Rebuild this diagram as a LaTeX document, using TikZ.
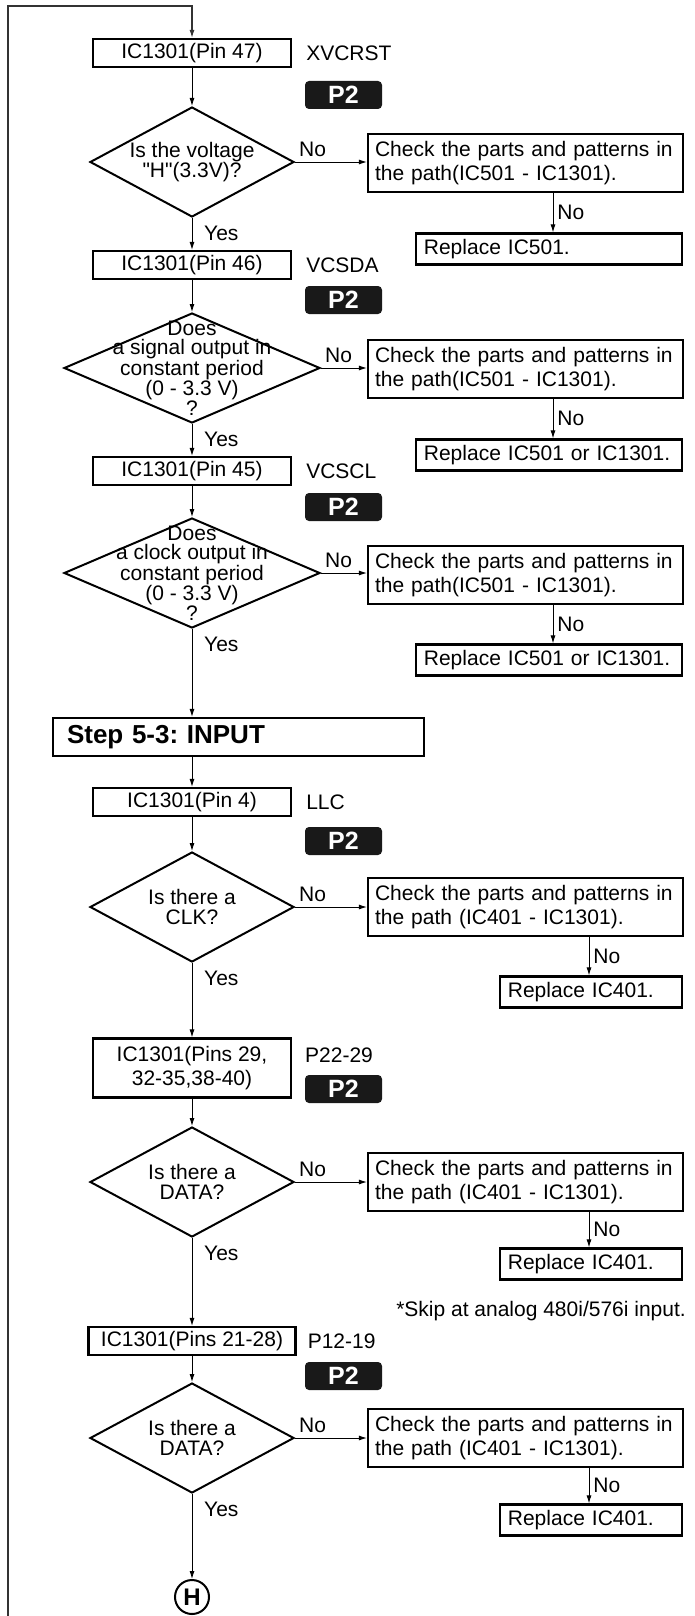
\documentclass[tikz,border=0pt]{standalone}
\usepackage{fontspec}
\setmainfont{Liberation Sans}[Ligatures=TeXOff]
\usetikzlibrary{
    calc,
    positioning,
    shapes.geometric,
    arrows.meta
}
\tikzset{
  pinbox/.style={draw, line width=2.2pt, minimum width=198pt, minimum height=28pt,
    inner sep=0pt, align=center},
  pinlabel/.style={inner sep=0pt},
  badge/.style={fill=black!90, text=white, rounded corners=4pt, minimum width=77pt,
    minimum height=28pt, inner sep=0pt, font=\fontsize{25}{25}\selectfont\bfseries},
  decide/.style={draw, diamond, line width=2pt, inner sep=0pt, minimum height=110pt,
    minimum width=#1},
  decide/.default=204pt,
  qtext/.style={align=center, inner sep=0pt, font=\fontsize{21}{19.5}\selectfont},
  chkbox/.style={draw, line width=2.2pt, text width=301pt, inner xsep=7pt,
    minimum height=58pt, align=left},
  fixbox/.style={draw, line width=2.2pt, anchor=east, align=left, minimum height=31pt,
    inner xsep=8pt, text width=#1},
  stepbox/.style={draw, line width=2.2pt, text width=343pt, inner xsep=14pt,
    minimum height=38pt, align=left, font=\fontsize{26}{26}\selectfont\bfseries},
  endmark/.style={draw, circle, line width=2pt, minimum size=34pt, inner sep=0pt,
    font=\fontsize{24}{24}\selectfont\bfseries},
  ans/.style={inner sep=0pt},
  flow/.style={line width=0.9pt, -{Latex[length=8pt,width=5pt]}}
}

\begin{document}
\frenchspacing
\begin{tikzpicture}[x=1pt, y=-1pt, font=\fontsize{21}{24}\selectfont]
  \useasboundingbox (0,0) rectangle (694,1616);

  \coordinate (colA) at (553,0);
  \coordinate (colB) at (589,0);
  \coordinate (loopEnd) at (8,1616);
  \coordinate (loopTop) at (192,6);

  % XVCRST
  \node[pinbox] (pin47) at (192,53) {IC1301(Pin 47)};
  \node[pinlabel, right=14pt of pin47] (lab47) {XVCRST};
  \node[badge] (p2a) at (343.5,95) {P2};
  \node[decide] (qV) at (192,162) {};
  \node[qtext] (qVt) at (qV.center) {Is the voltage\\"H"(3.3V)?};
  \node[chkbox] (chkV) at (525.5,163) {Check the parts and patterns in\\the path(IC501 - IC1301).};
  \node[fixbox=250pt] (fixV) at (683,249) {Replace IC501.};

  % VCSDA
  \node[pinbox] (pin46) at (192,265) {IC1301(Pin 46)};
  \node[pinlabel, right=14pt of pin46] (lab46) {VCSDA};
  \node[badge] (p2b) at (343.5,300) {P2};
  \node[decide=256pt] (qSDA) at (192,368) {};
  \node[qtext] (qSDAt) at (qSDA.center) {Does\\a signal output in\\constant period\\(0 - 3.3 V)\\?};
  \node[chkbox] (chkSDA) at (525.5,369) {Check the parts and patterns in\\the path(IC501 - IC1301).};
  \node[fixbox=250pt] (fixSDA) at (683,455) {\mbox{Replace IC501 or IC1301.}};

  % VCSCL
  \node[pinbox] (pin45) at (192,471) {IC1301(Pin 45)};
  \node[pinlabel, right=14pt of pin45] (lab45) {VCSCL};
  \node[badge] (p2c) at (343.5,507) {P2};
  \node[decide=256pt] (qSCL) at (192,573) {};
  \node[qtext] (qSCLt) at (qSCL.center) {Does\\a clock output in\\constant period\\(0 - 3.3 V)\\?};
  \node[chkbox] (chkSCL) at (525.5,575) {Check the parts and patterns in\\the path(IC501 - IC1301).};
  \node[fixbox=250pt] (fixSCL) at (683,660) {\mbox{Replace IC501 or IC1301.}};

  \node[stepbox] (step) at (238.5,737) {Step 5-3: INPUT};

  % LLC
  \node[pinbox] (pin4) at (192,802) {IC1301(Pin 4)};
  \node[pinlabel, right=14pt of pin4] (lab4) {LLC};
  \node[badge] (p2d) at (343.5,841) {P2};
  \node[decide] (qCLK) at (192,907) {};
  \node[qtext] (qCLKt) at (qCLK.center) {Is there a\\CLK?};
  \node[chkbox] (chkCLK) at (525.5,907) {Check the parts and patterns in\\the path (IC401 - IC1301).};
  \node[fixbox=166pt] (fixCLK) at (683,992) {Replace IC401.};

  % P22-29
  \node[pinbox, minimum height=59pt] (pinD) at (192,1068) {IC1301(Pins 29,\\32-35,38-40)};
  \node[pinlabel, anchor=west] (labD) at (305,1055) {P22-29};
  \node[badge] (p2e) at (343.5,1089) {P2};
  \node[decide] (qDATA) at (192,1182) {};
  \node[qtext] (qDATAt) at (qDATA.center) {Is there a\\DATA?};
  \node[chkbox] (chkDATA) at (525.5,1182) {Check the parts and patterns in\\the path (IC401 - IC1301).};
  \node[fixbox=166pt] (fixDATA) at (683,1264) {Replace IC401.};

  \node[ans, anchor=east] (skip) at (686,1311) {*Skip at analog 480i/576i input.};

  % P12-19
  \node[pinbox, minimum width=207pt] (pinE) at (192,1341) {IC1301(Pins 21-28)};
  \node[pinlabel, right=11pt of pinE] (labE) {P12-19};
  \node[badge] (p2f) at (343.5,1376) {P2};
  \node[decide] (qDATAb) at (192,1438) {};
  \node[qtext] (qDATAbt) at (qDATAb.center) {Is there a\\DATA?};
  \node[chkbox] (chkDATAb) at (525.5,1438) {Check the parts and patterns in\\the path (IC401 - IC1301).};
  \node[fixbox=166pt] (fixDATAb) at (683,1520) {Replace IC401.};

  \node[endmark] (endH) at (192,1597) {H};

  % main line
  \draw[flow, line width=1.2pt, black!80] (loopEnd) |- (loopTop) -- (pin47.north);
  \draw[flow] (pin47) -- (qV);
  \draw[flow] (qV) -- (pin46);
  \draw[flow] (pin46) -- (qSDA);
  \draw[flow] (qSDA) -- (pin45);
  \draw[flow] (pin45) -- (qSCL);
  \draw[flow] (qSCL.south) -- (qSCL.south |- step.north);
  \draw[flow] (step.south -| pin4.north) -- (pin4.north);
  \draw[flow] (pin4) -- (qCLK);
  \draw[flow] (qCLK) -- (pinD);
  \draw[flow] (pinD) -- (qDATA);
  \draw[flow] (qDATA) -- (pinE);
  \draw[flow] (pinE) -- (qDATAb);
  \draw[flow] (qDATAb) -- (endH);

  % No branches
  \foreach \q/\c/\f/\col in {qV/chkV/fixV/colA, qSDA/chkSDA/fixSDA/colA,
      qSCL/chkSCL/fixSCL/colA, qCLK/chkCLK/fixCLK/colB,
      qDATA/chkDATA/fixDATA/colB, qDATAb/chkDATAb/fixDATAb/colB}{
    \draw[flow] (\q.east) -- (\q.east -| \c.west);
    \node[ans, anchor=south west] (no\q) at ($(\q.east)+(4,-5)$) {No};
    \node[ans, anchor=north west] (yes\q) at ($(\q.south)+(12,8)$) {Yes};
    \draw[flow] (\c.south -| \col) -- (\col |- \f.north)
      node[ans, midway, right=4pt] (no\c) {No};
  }
\end{tikzpicture}
\end{document}
